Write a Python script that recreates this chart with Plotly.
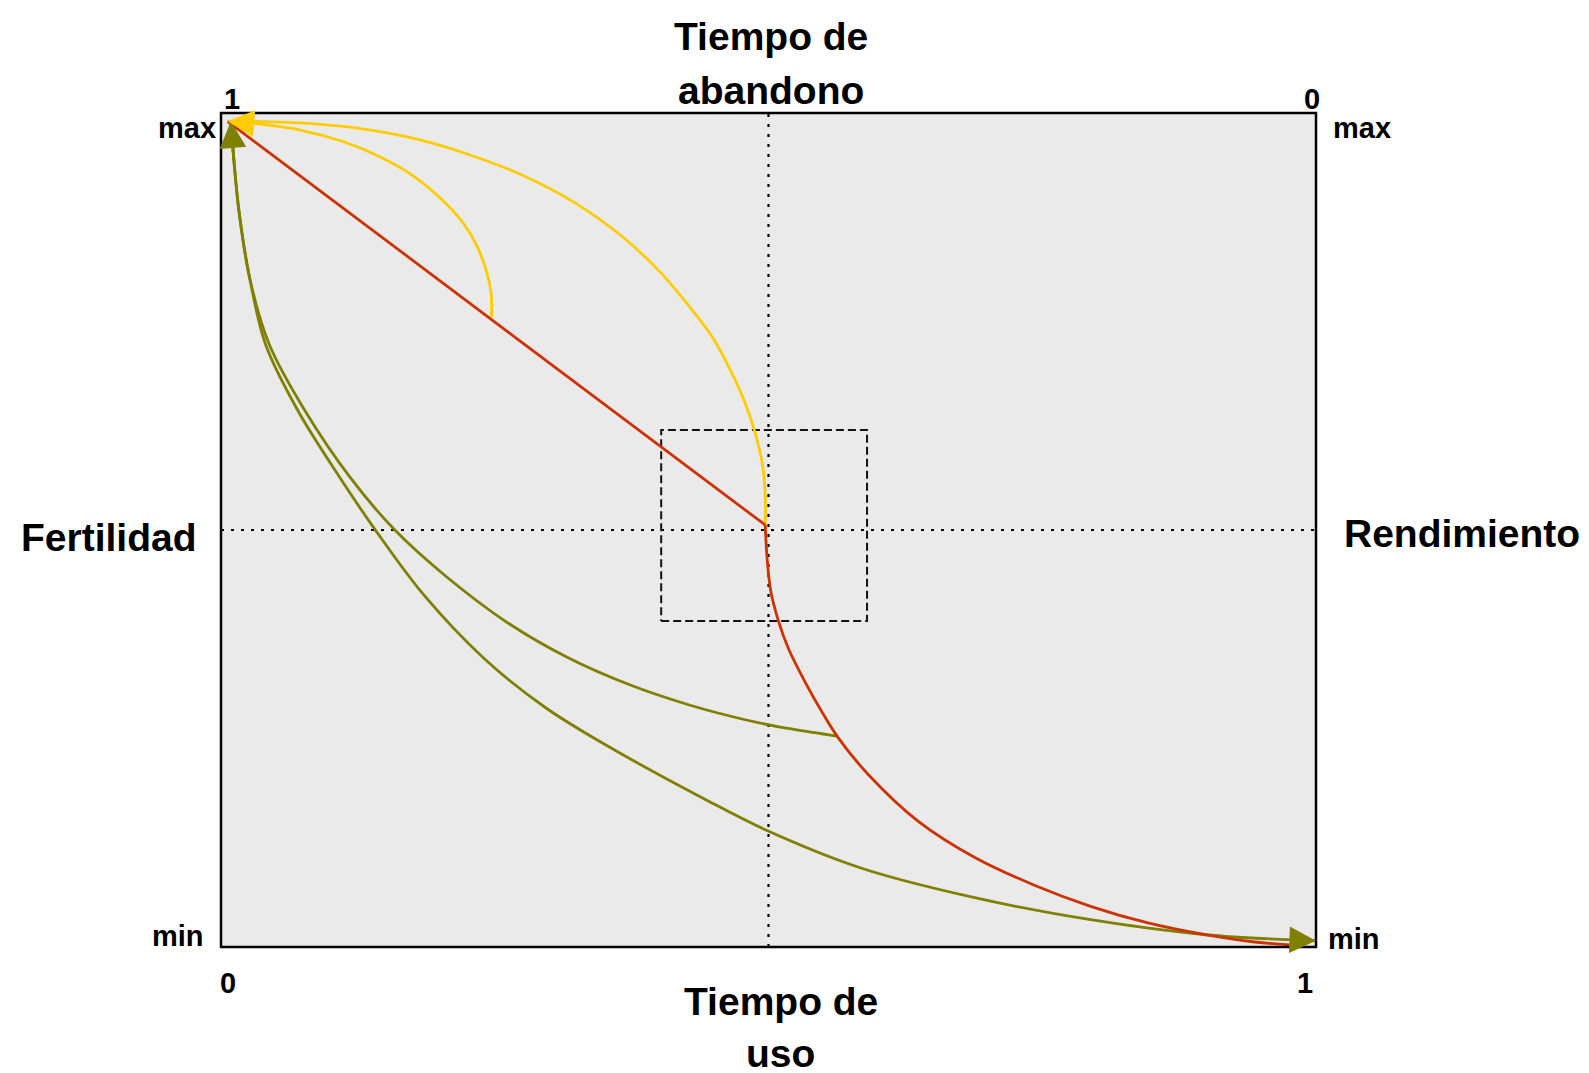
import plotly.graph_objects as go

# ---------------- data (normalised 0..1 on both axes) ----------------
# Tiempo de uso (x) vs Fertilidad / Rendimiento (y: 0 = min, 1 = max)
red_line_x = [0.006, 0.497]
red_line_y = [0.990, 0.506]

red_curve_x = [0.497, 0.4987, 0.5021, 0.5092, 0.5180, 0.5331, 0.5494, 0.5634,
               0.5913, 0.6368, 0.6893, 0.7417, 0.7942, 0.8466, 0.8990, 0.9440, 0.9836]
red_curve_y = [0.506, 0.4664, 0.4265, 0.3905, 0.3585, 0.3186, 0.2806, 0.2514,
               0.2066, 0.1507, 0.1067, 0.0747, 0.0488, 0.0288, 0.0147, 0.0060, 0.0020]

yellow_small_x = [0.2471, 0.2465, 0.2417, 0.2335, 0.2205, 0.2009, 0.1748, 0.1455,
                  0.1128, 0.0736, 0.0312, 0.0117, 0.006]
yellow_small_y = [0.7554, 0.7854, 0.8133, 0.8414, 0.8693, 0.8973, 0.9253, 0.9472,
                  0.9652, 0.9793, 0.9872, 0.9892, 0.990]

yellow_big_x = [0.497, 0.497, 0.4944, 0.4879, 0.4781, 0.4651, 0.4488, 0.4259, 0.3998,
                0.3672, 0.3248, 0.2759, 0.2270, 0.1781, 0.1291, 0.0802, 0.0312, 0.0117, 0.006]
yellow_big_y = [0.5056, 0.5416, 0.5790, 0.6160, 0.6540, 0.6920, 0.7310, 0.7710, 0.8110,
                0.8510, 0.8910, 0.9250, 0.9500, 0.9690, 0.9810, 0.9875, 0.9900, 0.9901, 0.990]

olive_a_x = [0.5636, 0.5208, 0.4837, 0.4277, 0.3714, 0.3157, 0.2598, 0.2051, 0.1590,
             0.1183, 0.0763, 0.0443, 0.0263, 0.0165, 0.0120, 0.009]
olive_a_y = [0.2526, 0.2614, 0.2710, 0.2902, 0.3153, 0.3477, 0.3905, 0.4448, 0.4996,
             0.5624, 0.6439, 0.7218, 0.8013, 0.8813, 0.9400, 0.990]

olive_b_x = [0.009, 0.0120, 0.0165, 0.0263, 0.0410, 0.0699, 0.1064, 0.1412, 0.1850,
             0.2410, 0.2968, 0.3531, 0.4445, 0.5002, 0.5843, 0.6893, 0.7942, 0.8990,
             0.9744, 1.000]
olive_b_y = [0.990, 0.9400, 0.8813, 0.8013, 0.7215, 0.6439, 0.5671, 0.4996, 0.4224,
             0.3450, 0.2866, 0.2410, 0.1754, 0.1387, 0.0947, 0.0588, 0.0327, 0.0147,
             0.0088, 0.0076]

mid_x = 0.5
mid_y = 0.5
box_x = [0.402, 0.590]
box_y = [0.391, 0.620]

RED = "#CC3300"
YELLOW = "#FFCC00"
OLIVE = "#808000"
FONT = "Liberation Sans, Arial, Helvetica, sans-serif"

fig = go.Figure()

def line(x, y, color, width=2.8, dash=None, shape="spline"):
    fig.add_trace(go.Scatter(x=x, y=y, mode="lines",
                             line=dict(color=color, width=width, dash=dash, shape=shape,
                                       smoothing=1.0),
                             hoverinfo="skip", showlegend=False))

# reference lines
line([0, 1], [mid_y, mid_y], "black", 2.2, "3px,7px", "linear")
line([mid_x, mid_x], [0, 1], "black", 2.2, "3px,7px", "linear")
# dashed box
line([box_x[0], box_x[1], box_x[1], box_x[0], box_x[0]],
     [box_y[0], box_y[0], box_y[1], box_y[1], box_y[0]], "#111111", 2, "8px,4px", "linear")

line(olive_a_x, olive_a_y, OLIVE)
line(olive_b_x, olive_b_y, OLIVE)
line(yellow_small_x, yellow_small_y, YELLOW)
line(yellow_big_x, yellow_big_y, YELLOW)
line(red_curve_x, red_curve_y, RED)
line(red_line_x, red_line_y, RED, shape="linear")

def arrow(tip_x, tip_y, tail_x, tail_y, color):
    fig.add_annotation(x=tip_x, y=tip_y, ax=tail_x, ay=tail_y, xref="x", yref="y",
                       axref="x", ayref="y", text="", showarrow=True,
                       arrowhead=2, arrowsize=1.9, arrowwidth=2.8, arrowcolor=color,
                       standoff=0, startstandoff=0)

arrow(olive_b_x[-1], olive_b_y[-1], olive_b_x[-2], olive_b_y[-2], OLIVE)
arrow(olive_a_x[-1], olive_a_y[-1], olive_a_x[-2], olive_a_y[-2], OLIVE)
arrow(yellow_small_x[-1], yellow_small_y[-1], yellow_small_x[-3], yellow_small_y[-3], YELLOW)

# texts
def label(text, x, y, size, xanchor="center"):
    fig.add_annotation(x=x, y=y, xref="paper", yref="paper", text="<b>%s</b>" % text,
                       showarrow=False, xanchor=xanchor, yanchor="middle",
                       font=dict(family=FONT, size=size, color="black"))

BIG = 39
SMALL = 29
label("Tiempo de", 0.502, 1.0923, BIG)
label("abandono", 0.502, 1.0264, BIG)
label("Tiempo de", 0.5114, -0.0659, BIG)
label("uso", 0.5114, -0.1275, BIG)
label("Fertilidad", -0.1027, 0.4916, BIG)
label("Rendimiento", 1.1329, 0.4964, BIG)
label("1", 0.0096, 1.0168, SMALL)
label("0", 0.9968, 1.0162, SMALL)
label("0", 0.0068, -0.0432, SMALL)
label("1", 0.9900, -0.0432, SMALL)
label("max", -0.0027, 0.982, SMALL, "right")
label("max", 1.0137, 0.982, SMALL, "left")
label("min", -0.0137, 0.0132, SMALL, "right")
label("min", 1.0091, 0.0096, SMALL, "left")

# frame
fig.add_shape(type="rect", xref="paper", yref="paper", x0=0, y0=0, x1=1, y1=1,
              line=dict(color="black", width=2.5), fillcolor="rgba(0,0,0,0)", layer="above")

fig.update_layout(
    width=1589, height=1073,
    margin=dict(l=213, r=281, t=105, b=134),
    paper_bgcolor="white", plot_bgcolor="#EAEAEA",
    xaxis=dict(range=[0, 1], showgrid=False, zeroline=False, showticklabels=False,
               ticks="", showline=False, fixedrange=True),
    yaxis=dict(range=[0, 1], showgrid=False, zeroline=False, showticklabels=False,
               ticks="", showline=False, fixedrange=True),
    showlegend=False,
)

fig.write_html("out.html")
